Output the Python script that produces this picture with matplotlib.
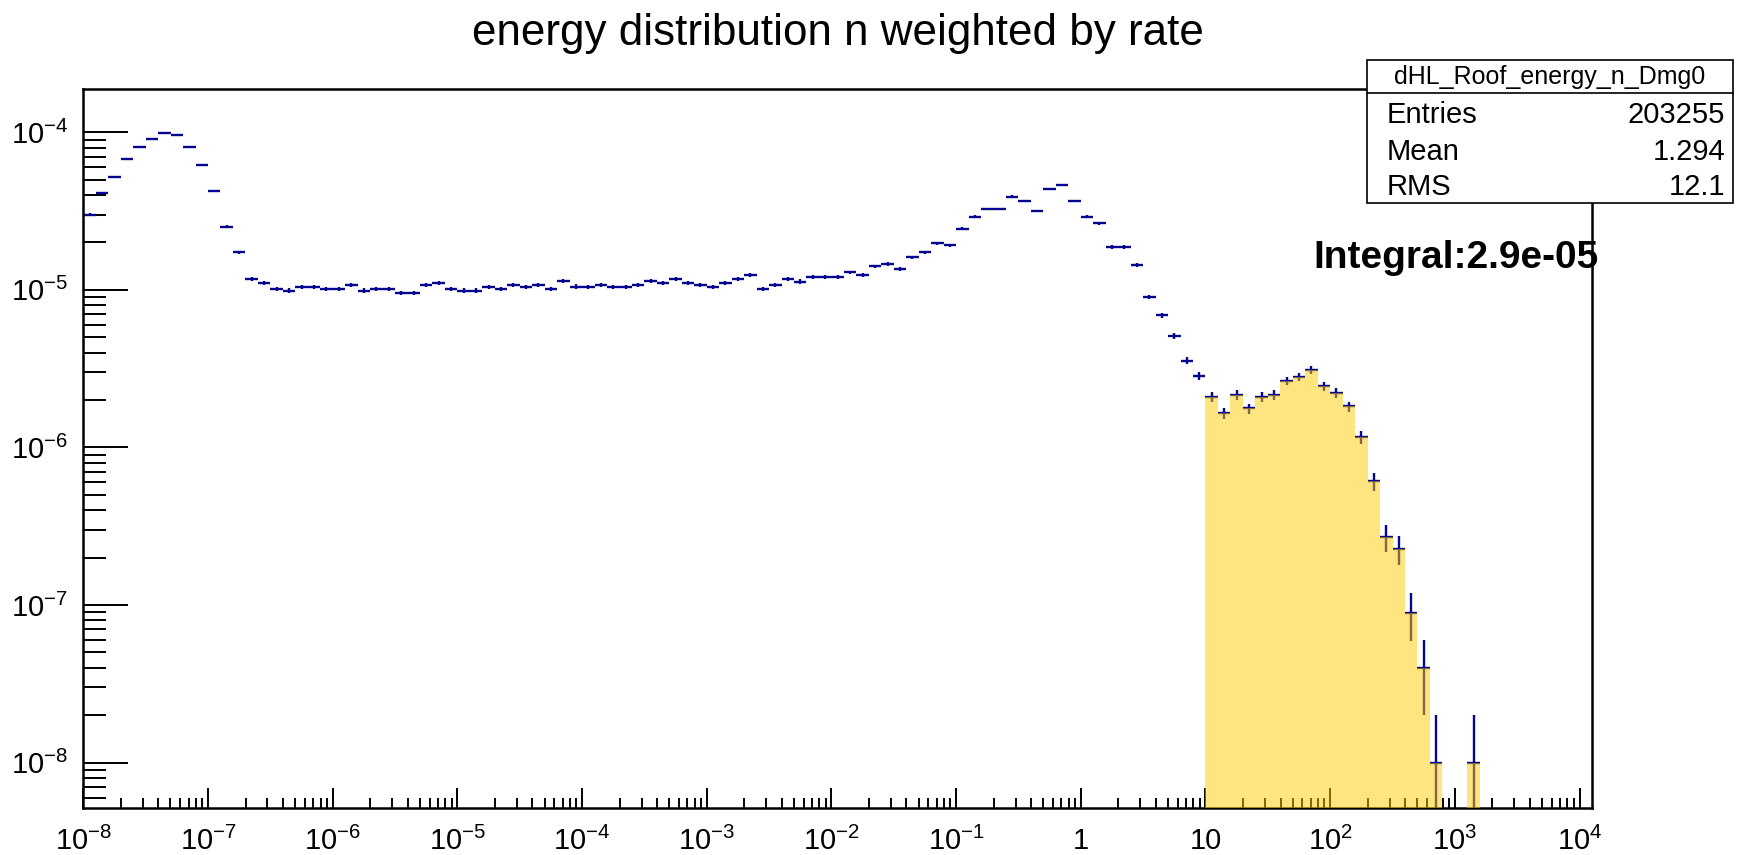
import numpy as np
import matplotlib
matplotlib.use("Agg")
import matplotlib.pyplot as plt
from matplotlib.patches import Rectangle
from matplotlib.lines import Line2D
from matplotlib.ticker import LogLocator, NullFormatter, FixedLocator

plt.rcParams['font.family'] = ['Liberation Sans', 'DejaVu Sans']
plt.rcParams['mathtext.fontset'] = 'custom'
plt.rcParams['mathtext.rm'] = 'Liberation Sans'
plt.rcParams['mathtext.it'] = 'Liberation Sans:italic'
plt.rcParams['mathtext.bf'] = 'Liberation Sans:bold'

# ---------------- data ----------------
title = "energy distribution n weighted by rate"
hist_name = "dHL_Roof_energy_n_Dmg0"
stat_labels = ["Entries", "Mean", "RMS"]
stat_values = ["203255", "1.294", "12.1"]
integral_text = "Integral:2.9e-05"

log_lo = -8.0          # log10 of first bin edge
dex_per_bin = 0.1      # bin width in decades
fill_threshold = 10.0  # bins at/above this energy are filled

values = [
    3.0e-5, 4.1e-5, 5.2e-5, 6.8e-5, 8.1e-5, 9.1e-5, 9.95e-5, 9.6e-5, 8.1e-5, 6.2e-5,
    4.25e-5, 2.52e-5, 1.73e-5, 1.17e-5, 1.11e-5, 1.01e-5, 0.99e-5, 1.045e-5, 1.045e-5, 1.01e-5,
    1.01e-5, 1.076e-5, 0.99e-5, 1.01e-5, 1.01e-5, 0.953e-5, 0.953e-5, 1.07e-5, 1.10e-5, 1.01e-5,
    0.99e-5, 0.99e-5, 1.045e-5, 1.01e-5, 1.076e-5, 1.04e-5, 1.076e-5, 1.01e-5, 1.145e-5, 1.05e-5,
    1.04e-5, 1.076e-5, 1.04e-5, 1.04e-5, 1.076e-5, 1.145e-5, 1.10e-5, 1.175e-5, 1.10e-5, 1.076e-5,
    1.04e-5, 1.10e-5, 1.175e-5, 1.245e-5, 1.01e-5, 1.076e-5, 1.175e-5, 1.13e-5, 1.20e-5, 1.20e-5,
    1.20e-5, 1.29e-5, 1.245e-5, 1.41e-5, 1.455e-5, 1.36e-5, 1.61e-5, 1.73e-5, 1.98e-5, 1.92e-5,
    2.44e-5, 2.92e-5, 3.25e-5, 3.25e-5, 3.91e-5, 3.66e-5, 3.18e-5, 4.37e-5, 4.63e-5, 3.66e-5,
    2.92e-5, 2.65e-5, 1.87e-5, 1.87e-5, 1.44e-5, 9.0e-6, 6.9e-6, 5.1e-6, 3.56e-6, 2.86e-6,
    2.09e-6, 1.65e-6, 2.16e-6, 1.77e-6, 2.09e-6, 2.16e-6, 2.64e-6, 2.80e-6, 3.09e-6, 2.44e-6,
    2.22e-6, 1.82e-6, 1.16e-6, 6.1e-7, 2.7e-7, 2.28e-7, 8.9e-8, 4.0e-8, 1.0e-8, 0.0,
    0.0, 1.0e-8, 0.0, 0.0, 0.0, 0.0, 0.0, 0.0, 0.0, 0.0, 0.0,
]

errors = [
    5.5e-7, 6.4e-7, 7.2e-7, 8.2e-7, 9.0e-7, 9.5e-7, 1.0e-6, 9.8e-7, 9.0e-7, 7.9e-7,
    6.5e-7, 5.0e-7, 4.2e-7, 3.4e-7, 3.3e-7, 3.2e-7, 3.2e-7, 3.2e-7, 3.2e-7, 3.2e-7,
    3.2e-7, 3.3e-7, 3.2e-7, 3.2e-7, 3.2e-7, 3.1e-7, 3.1e-7, 3.3e-7, 3.3e-7, 3.2e-7,
    3.2e-7, 3.2e-7, 3.2e-7, 3.2e-7, 3.3e-7, 3.2e-7, 3.3e-7, 3.2e-7, 3.4e-7, 3.2e-7,
    3.2e-7, 3.3e-7, 3.2e-7, 3.2e-7, 3.3e-7, 3.4e-7, 3.3e-7, 3.4e-7, 3.3e-7, 3.3e-7,
    3.2e-7, 3.3e-7, 3.4e-7, 3.5e-7, 3.2e-7, 3.3e-7, 3.4e-7, 3.4e-7, 3.5e-7, 3.5e-7,
    3.5e-7, 3.6e-7, 3.5e-7, 3.8e-7, 3.8e-7, 3.7e-7, 4.0e-7, 4.2e-7, 4.4e-7, 4.4e-7,
    4.9e-7, 5.4e-7, 5.7e-7, 5.7e-7, 6.3e-7, 6.0e-7, 5.6e-7, 6.6e-7, 6.8e-7, 6.0e-7,
    5.4e-7, 5.1e-7, 4.3e-7, 4.3e-7, 3.8e-7, 3.0e-7, 2.6e-7, 2.3e-7, 1.9e-7, 1.7e-7,
    1.45e-7, 1.3e-7, 1.5e-7, 1.3e-7, 1.45e-7, 1.5e-7, 1.6e-7, 1.7e-7, 1.75e-7, 1.55e-7,
    1.5e-7, 1.35e-7, 1.1e-7, 7.8e-8, 5.2e-8, 4.8e-8, 3.0e-8, 2.0e-8, 1.0e-8, 0.0,
    0.0, 1.0e-8, 0.0, 0.0, 0.0, 0.0, 0.0, 0.0, 0.0, 0.0, 0.0,
]

x_tick_labels = [r'$\mathregular{10^{-8}}$', r'$\mathregular{10^{-7}}$', r'$\mathregular{10^{-6}}$',
                 r'$\mathregular{10^{-5}}$', r'$\mathregular{10^{-4}}$', r'$\mathregular{10^{-3}}$',
                 r'$\mathregular{10^{-2}}$', r'$\mathregular{10^{-1}}$', '1', '10',
                 r'$\mathregular{10^{2}}$', r'$\mathregular{10^{3}}$', r'$\mathregular{10^{4}}$']
y_tick_labels = [r'$\mathregular{10^{-8}}$', r'$\mathregular{10^{-7}}$', r'$\mathregular{10^{-6}}$',
                 r'$\mathregular{10^{-5}}$', r'$\mathregular{10^{-4}}$']

# ---------------- derived ----------------
vals = np.array(values)
errs = np.array(errors)
nb = len(vals)
edges = 10.0 ** (log_lo + dex_per_bin * np.arange(nb + 1))
lo, hi = edges[:-1], edges[1:]
centers = 10.0 ** (log_lo + dex_per_bin * (np.arange(nb) + 0.5))

# ---------------- figure ----------------
W, H = 1737, 855
fig = plt.figure(figsize=(W / 100, H / 100), dpi=100)
L, R, T, B = 83.3, 1592, 89.3, 808.3
ax = fig.add_axes([L / W, 1 - B / H, (R - L) / W, (B - T) / H])
ax.set_xscale('log')
ax.set_yscale('log')
ax.set_xlim(1e-8, 10 ** 4.1)
ax.set_ylim(10 ** -8.29, 10 ** -3.727)

blue = '#050590'
m = vals > 0
ax.errorbar(centers[m], vals[m], xerr=[centers[m] - lo[m], hi[m] - centers[m]],
            yerr=errs[m], fmt='none', ecolor=blue, elinewidth=1.7, capsize=0, zorder=2)

fm = (lo >= fill_threshold * 0.999) & m
ax.bar(lo[fm], vals[fm], width=(hi - lo)[fm], align='edge', bottom=1e-12,
       color=(1.0, 0.80, 0.0), alpha=0.5, linewidth=0, zorder=3)

# ticks
ax.xaxis.set_major_locator(FixedLocator(10.0 ** np.arange(-8, 5)))
ax.set_xticklabels(x_tick_labels)
ax.xaxis.set_minor_locator(LogLocator(base=10, subs=np.arange(2, 10), numticks=40))
ax.xaxis.set_minor_formatter(NullFormatter())
ax.yaxis.set_major_locator(FixedLocator(10.0 ** np.arange(-8, -3)))
ax.set_yticklabels(y_tick_labels)
ax.yaxis.set_minor_locator(LogLocator(base=10, subs=np.arange(2, 10), numticks=40))
ax.yaxis.set_minor_formatter(NullFormatter())

ax.tick_params(axis='x', which='major', direction='in', length=14.5, width=1.4,
               labelsize=21, pad=13.5, top=False, bottom=True)
ax.tick_params(axis='x', which='minor', direction='in', length=7.0, width=1.4,
               top=False, bottom=True)
ax.tick_params(axis='y', which='major', direction='in', length=32.5, width=1.4,
               labelsize=21, pad=11, right=False, left=True)
ax.tick_params(axis='y', which='minor', direction='in', length=16.5, width=1.4,
               right=False, left=True)
for s in ax.spines.values():
    s.set_linewidth(1.8)

# title
fig.text(838 / W, 1 - 33 / H, title, ha='center', va='center', fontsize=31.7)

# integral
fig.text(1313 / W, 1 - 268 / H, integral_text, ha='left', va='baseline',
         fontsize=28, fontweight='bold')

# stats box
bx0, bx1, by0, by1, bdiv = 1367, 1733, 60, 203, 93
box = Rectangle((bx0 / W, 1 - by1 / H), (bx1 - bx0) / W, (by1 - by0) / H,
                transform=fig.transFigure, facecolor='white', edgecolor='black',
                linewidth=1.2, zorder=10)
fig.add_artist(box)
fig.add_artist(Line2D([bx0 / W, bx1 / W], [1 - bdiv / H, 1 - bdiv / H],
                      transform=fig.transFigure, color='black', linewidth=1.2, zorder=11))
fig.text((bx0 + bx1) / 2 / W, 1 - 77 / H, hist_name, ha='center', va='center',
         fontsize=18, zorder=12)
rows_y = [115, 152, 187]
for lab, val, yy in zip(stat_labels, stat_values, rows_y):
    fig.text(1387 / W, 1 - yy / H, lab, ha='left', va='center', fontsize=21, zorder=12)
    fig.text(1725 / W, 1 - yy / H, val, ha='right', va='center', fontsize=21, zorder=12)

fig.savefig('out.png', dpi=100)
